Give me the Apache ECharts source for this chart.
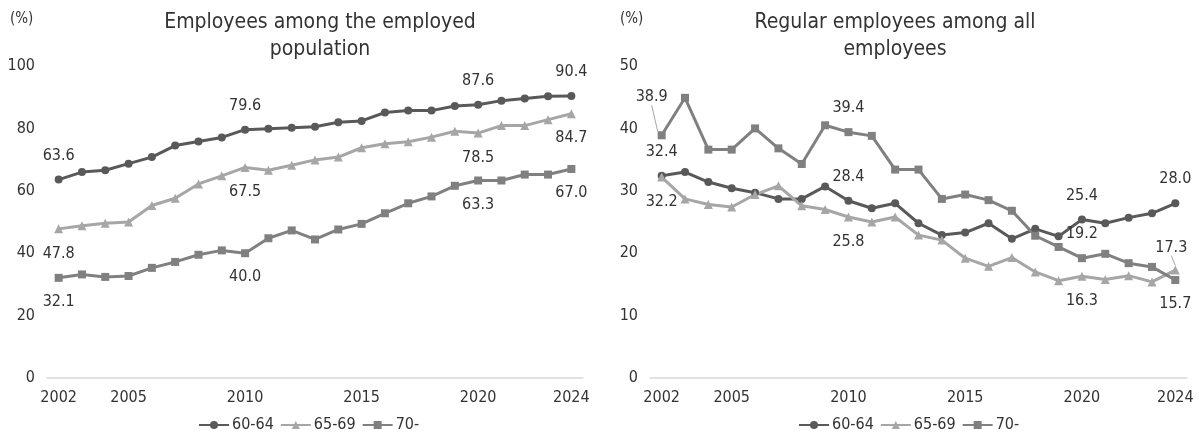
<!DOCTYPE html>
<html>
<head>
<meta charset="utf-8">
<script src="https://cdn.jsdelivr.net/npm/echarts@6/dist/echarts.min.js"></script>
<style>
  html, body { margin: 0; padding: 0; background: #fff; }
  #chart { width: 1199px; height: 436px; }
</style>
</head>
<body>
<div id="chart"></div>
<script>
// years on the x axis
const years = ['2002','2003','2004','2005','2006','2007','2008','2009','2010','2011','2012','2013',
  '2014','2015','2016','2017','2018','2019','2020','2021','2022','2023','2024'];
const shownYears = ['2002', '2005', '2010', '2015', '2020', '2024'];
const seriesNames = ['60-64', '65-69', '70-'];

// Employees among the employed population (%)
const emp6064 = [63.6, 66.0, 66.6, 68.7, 70.8, 74.5, 75.8, 77.1, 79.6, 79.9, 80.2, 80.5,
  82.0, 82.4, 85.1, 85.7, 85.7, 87.2, 87.6, 88.9, 89.6, 90.3, 90.4];
const emp6569 = [47.8, 48.8, 49.6, 50.0, 55.3, 57.6, 62.2, 64.8, 67.5, 66.6, 68.2, 69.9,
  70.8, 73.8, 75.1, 75.7, 77.2, 79.1, 78.5, 80.9, 80.9, 82.8, 84.7];
const emp70 = [32.1, 33.2, 32.4, 32.7, 35.3, 37.2, 39.5, 40.9, 40.0, 44.8, 47.3, 44.4,
  47.6, 49.4, 52.8, 56.0, 58.2, 61.6, 63.3, 63.3, 65.2, 65.2, 67.0];

// Regular employees among all employees (%)
const reg6064 = [32.4, 33.0, 31.4, 30.4, 29.7, 28.7, 28.7, 30.7, 28.4, 27.2, 28.0, 24.8,
  22.9, 23.3, 24.8, 22.3, 23.9, 22.7, 25.4, 24.8, 25.7, 26.4, 28.0];
const reg6569 = [32.2, 28.7, 27.8, 27.4, 29.4, 30.8, 27.6, 27.0, 25.8, 25.0, 25.8, 22.9,
  22.1, 19.2, 17.9, 19.3, 17.0, 15.6, 16.3, 15.8, 16.4, 15.4, 17.3];
const reg70 = [38.9, 44.9, 36.6, 36.6, 40.0, 36.8, 34.3, 40.5, 39.4, 38.8, 33.4, 33.4,
  28.7, 29.4, 28.5, 26.8, 22.8, 21.0, 19.2, 19.9, 18.4, 17.8, 15.7];

// which points carry a value label, and on which side
const labelYears = ['2002', '2010', '2020', '2024'];
const empLabelSide = [['top','top','top','top'], ['bottom','bottom','bottom','bottom'], ['bottom','bottom','bottom','bottom']];
const regLabelSide = [['top','top','top','top'], ['bottom','bottom','bottom','top'], ['top','top','top','bottom']];

const FONT = "'DejaVu Sans Condensed', 'Liberation Sans Narrow', 'Noto Sans', sans-serif";
const TEXT = '#333333';
const colors = ['#595959', '#a6a6a6', '#808080'];
const symbols = ['circle', 'triangle', 'rect'];
const symbolSizes = [8, 9, 8];

function buildData(values, sides, leaders) {
  return values.map((v, i) => {
    const k = labelYears.indexOf(years[i]);
    if (k < 0) return v;
    const item = {
      value: v,
      label: { show: true, position: sides[k], distance: 12 }
    };
    if (leaders && leaders[k]) {
      item.labelLine = { show: true, lineStyle: { color: '#a6a6a6', width: 1 } };
    }
    return item;
  });
}

function makeSeries(idx, values, sides, leaders) {
  const s = {
    name: seriesNames[idx % 3],
    type: 'line',
    xAxisIndex: idx < 3 ? 0 : 1,
    yAxisIndex: idx < 3 ? 0 : 1,
    data: buildData(values, sides, leaders),
    color: colors[idx % 3],
    symbol: symbols[idx % 3],
    symbolSize: symbolSizes[idx % 3],
    lineStyle: { width: 3, color: colors[idx % 3] },
    itemStyle: { color: colors[idx % 3] },
    label: { fontFamily: FONT, fontSize: 16, color: TEXT, formatter: p => p.value.toFixed(1) },
    animation: false
  };
  if (leaders) {
    s.labelLayout = p => {
      const k = labelYears.indexOf(years[p.dataIndex]);
      if (k >= 0 && leaders[k]) return { dx: leaders[k][0], dy: leaders[k][1] };
    };
  }
  return s;
}

function xAxis(gridIndex) {
  return {
    type: 'category',
    gridIndex: gridIndex,
    data: years,
    boundaryGap: true,
    axisLine: { lineStyle: { color: '#d9d9d9', width: 1.5 } },
    axisTick: { show: false },
    axisLabel: {
      interval: (i, val) => shownYears.includes(val),
      fontFamily: FONT, fontSize: 16, color: TEXT, margin: 12
    }
  };
}

function yAxis(gridIndex, max, step) {
  return {
    type: 'value',
    gridIndex: gridIndex,
    min: 0, max: max, interval: step,
    splitLine: { show: false },
    axisLine: { show: false },
    axisLabel: { fontFamily: FONT, fontSize: 16, color: TEXT, margin: 12 }
  };
}

const chart = echarts.init(document.getElementById('chart'));
chart.setOption({
  backgroundColor: '#ffffff',
  textStyle: { fontFamily: FONT },
  title: [
    { text: 'Employees among the employed\npopulation', left: 315, top: 4, textAlign: 'center',
      textStyle: { fontFamily: FONT, fontSize: 21, fontWeight: 'normal', color: TEXT, lineHeight: 27 } },
    { text: 'Regular employees among all\nemployees', left: 890, top: 4, textAlign: 'center',
      textStyle: { fontFamily: FONT, fontSize: 21, fontWeight: 'normal', color: TEXT, lineHeight: 27 } }
  ],
  graphic: [
    { type: 'text', left: 10, top: 12, style: { text: '(%)', font: '15px ' + FONT, fill: TEXT } },
    { type: 'text', left: 620, top: 12, style: { text: '(%)', font: '15px ' + FONT, fill: TEXT } }
  ],
  legend: [
    { data: seriesNames, left: 193, top: 412, itemWidth: 30, itemHeight: 10, itemGap: 6,
      textStyle: { fontFamily: FONT, fontSize: 16, color: TEXT, padding: [0, 0, 0, -2] }, selectedMode: false },
    { data: seriesNames, left: 793, top: 412, itemWidth: 30, itemHeight: 10, itemGap: 6,
      textStyle: { fontFamily: FONT, fontSize: 16, color: TEXT, padding: [0, 0, 0, -2] }, selectedMode: false }
  ],
  grid: [
    { left: 47, top: 66, width: 536, height: 312 },
    { left: 650, top: 66, width: 537, height: 312 }
  ],
  xAxis: [xAxis(0), xAxis(1)],
  yAxis: [yAxis(0, 100, 20), yAxis(1, 50, 10)],
  series: [
    makeSeries(0, emp6064, empLabelSide[0]),
    makeSeries(1, emp6569, empLabelSide[1]),
    makeSeries(2, emp70, empLabelSide[2]),
    makeSeries(3, reg6064, regLabelSide[0]),
    makeSeries(4, reg6569, regLabelSide[1], [null, null, null, [-4, 2]]),
    makeSeries(5, reg70, regLabelSide[2], [[-10, -14], null, null, null])
  ]
});
</script>
</body>
</html>
